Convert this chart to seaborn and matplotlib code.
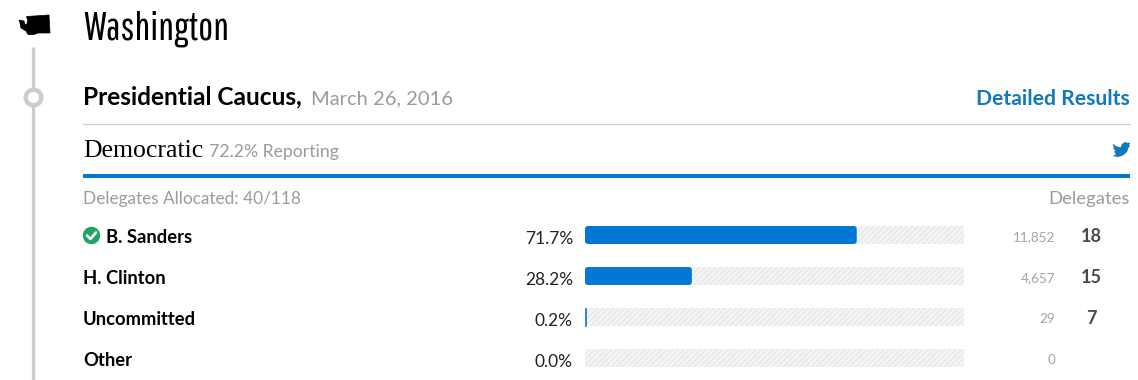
import matplotlib
matplotlib.use('Agg')
import matplotlib.pyplot as plt
import pandas as pd
import seaborn as sns
from matplotlib.patches import Circle, FancyBboxPatch, Polygon
from matplotlib.transforms import IdentityTransform

# Values
candidates = ['B. Sanders', 'H. Clinton', 'Uncommitted', 'Other']
vote_share = [71.7, 28.2, 0.2, 0.0]
votes = ['11,852', '4,657', '29', '0']
delegates = ['18', '15', '7', '']
track = [100, 100, 100, 100]

BLUE = '#0078d4'
LINK = '#1279bd'
GREY = '#9b9b9b'
NARROW = ['Pathway Gothic One', 'Liberation Sans', 'DejaVu Sans']
SERIF = ['Liberation Serif', 'DejaVu Serif']

sns.set_style('white')
plt.rcParams['font.family'] = ['Lato', 'DejaVu Sans']
plt.rcParams['hatch.linewidth'] = 0.7

W, H = 1138, 380
fig = plt.figure(figsize=(W / 100, H / 100), dpi=100)
fig.patch.set_facecolor('white')

# overlay in pixel coordinates for the page furniture
page = fig.add_axes([0, 0, 1, 1])
page.set_xlim(0, W)
page.set_ylim(H, 0)
page.axis('off')

# bars: axes spans 585-964 px, rows 41 px apart
top, bottom = 214.5, 378.5
ax = fig.add_axes([585 / W, 1 - bottom / H, 379 / W, (bottom - top) / H])
ax.patch.set_alpha(0)
df = pd.DataFrame({'name': candidates, 'share': vote_share, 'track': track})
sns.barplot(data=df, x='track', y='name', ax=ax, color='#f4f4f4', width=18 / 41,
            saturation=1, linewidth=0, hatch='//////', edgecolor='#e4e4e4')
n_track = len(ax.patches)
sns.barplot(data=df, x='share', y='name', ax=ax, color=BLUE, width=18 / 41,
            saturation=1, linewidth=0)
ax.set_xlim(0, 100)
ax.set_ylim(3.5, -0.5)
ax.axis('off')

# rounded ends on the long bars
fig.canvas.draw()
for bar in ax.patches[n_track:]:
    if bar.get_width() > 5:
        box = bar.get_window_extent()
        clip = FancyBboxPatch((box.x0, box.y0), box.width, box.height,
                              boxstyle='round,pad=0,rounding_size=3',
                              transform=IdentityTransform())
        bar.set_clip_path(clip)
    elif bar.get_width() > 0:
        bar.set_edgecolor(LINK)
        bar.set_linewidth(0.5)

# timeline on the left
page.plot([33.5, 33.5], [47, 380], color='#cccccc', lw=2.3, solid_capstyle='butt')
page.add_patch(Circle((33.5, 97.5), 7.8, fc='white', ec='#cccccc', lw=3.2, zorder=3))

# state outline
state = [(26.5, 16.5), (49, 15), (50, 33), (38, 33), (34, 34.5), (28, 34.5), (26, 31),
         (21, 28), (20, 23), (19, 20), (24, 21), (25, 24.5), (27, 24), (27.5, 20)]
page.add_patch(Polygon(state, closed=True, fc='black', ec='black', lw=0.5))

# rules
page.plot([83, 1130], [123.5, 123.5], color='#cccccc', lw=0.9)
page.fill_between([83, 1130], 174, 178, color=BLUE, lw=0)

# check mark
page.add_patch(Circle((91.5, 235.5), 8.7, fc='#1fa463', ec='none'))
page.plot([87, 90.5, 96], [235.5, 239, 232.5], color='white', lw=1.9)

# twitter bird
bird = [(1112.5, 143.5), (1116, 146), (1120.5, 147.5), (1122, 144), (1125, 142), (1128, 143),
        (1130.5, 142.5), (1129, 145), (1130, 145.5), (1128.5, 148), (1127, 152), (1123, 155.5),
        (1118, 157), (1112.5, 156), (1116, 154.5), (1114, 151.5), (1115.5, 151), (1113, 148),
        (1114, 147.5)]
page.add_patch(Polygon(bird, closed=True, fc=LINK, ec='none'))

# headings
page.text(83, 40, 'Washington', fontsize=28.5, family=NARROW, color='black', va='baseline')
page.text(83, 104, 'Presidential Caucus,', fontsize=17.6, fontweight='bold',
          color='black', va='baseline')
page.text(311, 104, 'March 26, 2016', fontsize=14.5, color=GREY, va='baseline')
page.text(1130, 105, 'Detailed Results', fontsize=15.2, fontweight='bold', color=LINK,
          ha='right', va='baseline')
page.text(83, 157, 'Democratic', fontsize=18.5, family=SERIF, color='black', va='baseline')
page.text(209, 157, '72.2% Reporting', fontsize=12.7, color=GREY, va='baseline')
page.text(83, 204, 'Delegates Allocated: 40/118', fontsize=12.4, color=GREY, va='baseline')
page.text(1130, 204, 'Delegates', fontsize=13.3, color=GREY, ha='right', va='baseline')

# rows
for i, name in enumerate(candidates):
    row = 41 * i
    x = 106 if i == 0 else 83
    page.text(x, 243 + row, name, fontsize=13.2, fontweight='bold', color='black', va='baseline')
    page.text(573, 244 + row, f'{vote_share[i]:.1f}%', fontsize=12.5, color='#222222',
              ha='right', va='baseline')
    page.text(1055, 241 + row, votes[i], fontsize=9.7, color='#a3a3a3', ha='right', va='baseline')
    page.text(1091, 242 + row, delegates[i], fontsize=13, fontweight='bold', color='#4a4a4a',
              ha='center', va='baseline')

fig.savefig('out.png', dpi=100, facecolor='white')
